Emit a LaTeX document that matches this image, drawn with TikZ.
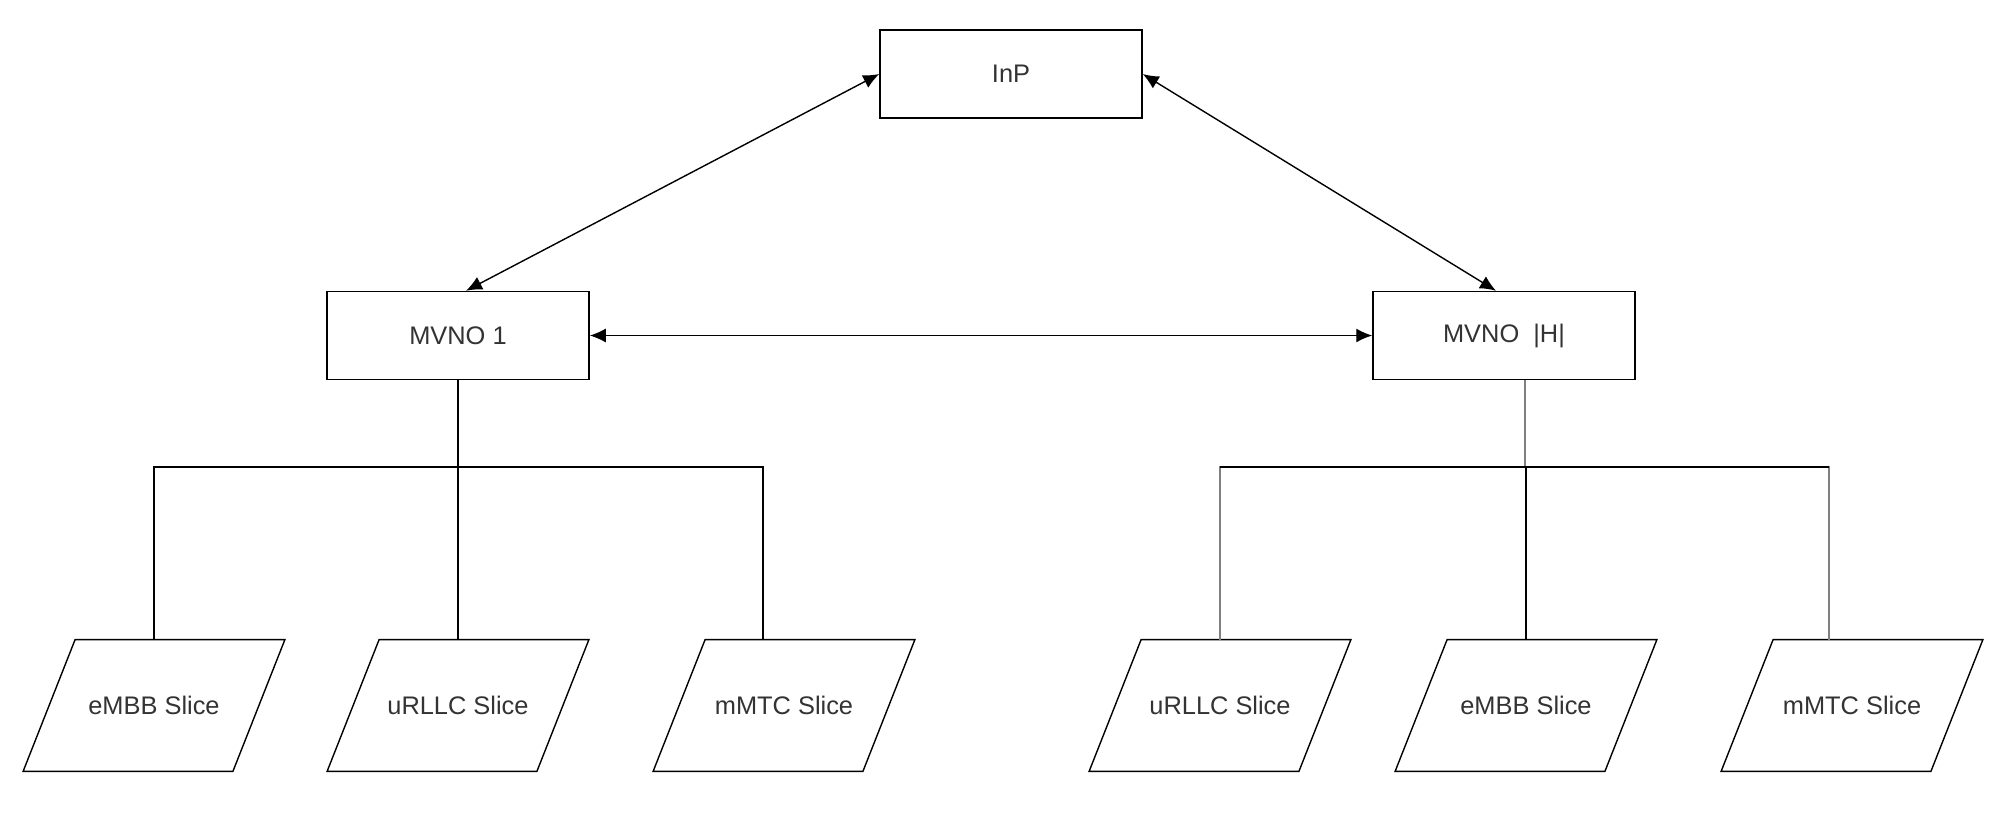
\documentclass[tikz,border=0pt]{standalone}
\usepackage{fontspec}
\setmainfont{Liberation Sans}
\usetikzlibrary{arrows.meta}
\tikzset{
    box/.style={draw,line width=0.75pt,minimum width=131pt,minimum height=44pt,inner sep=0pt,
        font=\fontsize{12.7}{15}\selectfont,text=black!80},
    slice/.style={minimum width=104.5pt,minimum height=65.5pt,inner sep=0pt,
        font=\fontsize{12.7}{15}\selectfont,text=black!80},
    link/.style={line width=0.7pt},
    glink/.style={line width=0.7pt,draw=black!50}
}
\begin{document}
\begin{tikzpicture}[x=0.5pt,y=-0.5pt,>={Latex[length=8pt,width=7pt]}]
    \useasboundingbox (0,0) rectangle (1994,832);
    % top and middle boxes
    \node[box] (inp) at (1011,74) {InP};
    \node[box] (mvnoa) at (458,335.5) {MVNO 1};
    \node[box] (mvnoh) at (1504,335.5) {MVNO\ \ |H|};
    % slices
    \node[slice] (sa) at (154,705.5) {eMBB Slice};
    \node[slice] (sb) at (458,705.5) {uRLLC Slice};
    \node[slice] (sc) at (784,705.5) {mMTC Slice};
    \node[slice] (sd) at (1220,705.5) {uRLLC Slice};
    \node[slice] (se) at (1526,705.5) {eMBB Slice};
    \node[slice] (sf) at (1852,705.5) {mMTC Slice};
    \foreach \s in {sa,sb,sc,sd,se,sf}
        \draw[line width=0.7pt]([xshift=-13pt]\s.south west)--([xshift=13pt]\s.north west)
            --([xshift=13pt]\s.north east)--([xshift=-13pt]\s.south east)--cycle;
    \coordinate (bus) at (0,467);
    % arrows
    \draw[link,<->](inp.west)--([xshift=4pt]mvnoa.north);
    \draw[link,<->](inp.east)--([xshift=-4pt]mvnoh.north);
    \draw[link,<->](mvnoa.east)--(mvnoh.west);
    % left tree
    \draw[link](mvnoa.south)--(sb.north);
    \draw[link](mvnoa.south|-bus)-|(sa.north);
    \draw[link](mvnoa.south|-bus)-|([xshift=-10.5pt]sc.north);
    % right tree
    \draw[glink]([xshift=10.5pt]mvnoh.south)--([xshift=10.5pt]mvnoh.south|-bus);
    \draw[glink]([xshift=10.5pt]mvnoh.south|-bus)-|(sd.north);
    \draw[glink]([xshift=10.5pt]mvnoh.south|-bus)-|([xshift=-11.5pt]sf.north);
    \draw[link](sd.north|-bus)--([xshift=-11.5pt]sf.north|-bus);
    \draw[link](se.north|-bus)--(se.north);
\end{tikzpicture}
\end{document}
